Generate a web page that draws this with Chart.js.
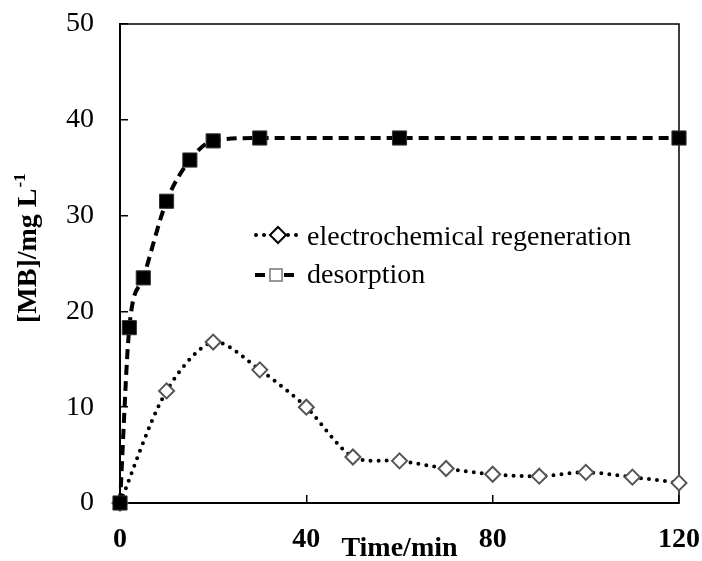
<!DOCTYPE html>
<html>
<head>
<meta charset="utf-8">
<title>[MB] vs time</title>
<script src="https://cdn.jsdelivr.net/npm/chart.js@4.4.0/dist/chart.umd.min.js"></script>
<style>
  html, body { margin: 0; padding: 0; background: #fff; }
  canvas { display: block; }
</style>
</head>
<body>
<canvas id="grafico" width="702" height="561"></canvas>
<script>
// desorption (squares, dashed)
const tiempoDesorcion = [0, 2, 5, 10, 15, 20, 30, 60, 120]
const valoresDesorcion = [0, 18.3, 23.5, 31.5, 35.8, 37.8, 38.1, 38.1, 38.1]

// electrochemical regeneration (diamonds, dotted)
const tiempoRegeneracion = [0, 10, 20, 30, 40, 50, 60, 70, 80, 90, 100, 110, 120]
const valoresRegeneracion = [0, 11.7, 16.8, 13.9, 10.0, 4.8, 4.4, 3.6, 3.0, 2.8, 3.2, 2.7, 2.1]

const ticksX = [0, 40, 80, 120]
const ticksY = [0, 10, 20, 30, 40, 50]
const nombres = ["electrochemical regeneration", "desorption"]
const tituloX = "Time/min"
const tituloY = "[MB]/mg L"
const tituloYSup = "-1"

const fuente = "'Liberation Serif', 'Times New Roman', serif"
Chart.defaults.font.family = fuente
Chart.defaults.color = '#000'

function puntos(xs, ys) {
  return xs.map((x, i) => ({ x: x, y: ys[i] }))
}

// frame, legend and y title
const extras = {
  id: 'extras',
  beforeDatasetsDraw(chart) {
    const { ctx, chartArea: a } = chart
    ctx.save()
    ctx.strokeStyle = '#000'
    ctx.lineWidth = 1.5
    ctx.beginPath()
    ctx.moveTo(a.left, a.top)
    ctx.lineTo(a.right, a.top)
    ctx.lineTo(a.right, a.bottom)
    ctx.stroke()
    ctx.restore()
  },
  afterDraw(chart) {
    const ctx = chart.ctx
    ctx.save()
    // legend row 1
    ctx.strokeStyle = '#000'
    ctx.lineWidth = 4
    ctx.lineCap = 'round'
    ctx.setLineDash([0, 8])
    ctx.beginPath()
    ctx.moveTo(256, 235); ctx.lineTo(302, 235)
    ctx.stroke()
    ctx.setLineDash([])
    ctx.lineCap = 'butt'
    ctx.fillStyle = '#fff'
    ctx.strokeStyle = '#000'
    ctx.lineWidth = 2
    ctx.beginPath()
    ctx.moveTo(270, 235); ctx.lineTo(278, 227); ctx.lineTo(286, 235); ctx.lineTo(278, 243); ctx.closePath()
    ctx.fill(); ctx.stroke()
    // legend row 2
    ctx.lineWidth = 4
    ctx.beginPath()
    ctx.moveTo(255, 275); ctx.lineTo(265, 275)
    ctx.moveTo(284, 275); ctx.lineTo(294, 275)
    ctx.stroke()
    ctx.strokeStyle = '#777'
    ctx.lineWidth = 1.5
    ctx.fillStyle = '#fff'
    ctx.fillRect(270, 269, 12, 12)
    ctx.strokeRect(270, 269, 12, 12)

    ctx.fillStyle = '#000'
    ctx.font = '28px ' + fuente
    ctx.textBaseline = 'alphabetic'
    ctx.textAlign = 'left'
    ctx.fillText(nombres[0], 307, 245)
    ctx.fillText(nombres[1], 307, 283)

    // y title with superscript
    ctx.translate(36, 323)
    ctx.rotate(-Math.PI / 2)
    ctx.font = 'bold 28px ' + fuente
    ctx.fillText(tituloY, 0, 0)
    const w = ctx.measureText(tituloY).width
    ctx.font = 'bold 17px ' + fuente
    ctx.fillText(tituloYSup, w + 1, -11)
    ctx.restore()
  }
}

new Chart(document.getElementById('grafico'), {
  type: 'scatter',
  data: {
    datasets: [
      {
        label: nombres[1],
        data: puntos(tiempoDesorcion, valoresDesorcion),
        showLine: true,
        cubicInterpolationMode: 'monotone',
        borderColor: '#000',
        borderWidth: 4,
        borderDash: [10, 6],
        pointStyle: 'rect',
        pointRadius: 10,
        pointBackgroundColor: '#000',
        pointBorderColor: '#333',
        pointBorderWidth: 1,
        clip: false
      },
      {
        label: nombres[0],
        data: puntos(tiempoRegeneracion, valoresRegeneracion),
        showLine: true,
        tension: 0.3,
        borderColor: '#000',
        borderWidth: 4,
        borderDash: [0, 8],
        borderCapStyle: 'round',
        pointStyle: 'rectRot',
        pointRadius: 7.5,
        pointBackgroundColor: '#fff',
        pointBorderColor: '#555',
        pointBorderWidth: 2,
        clip: false
      }
    ]
  },
  options: {
    responsive: false,
    animation: false,
    layout: { padding: { top: 24, right: 23, left: 0, bottom: 0 } },
    plugins: {
      legend: { display: false },
      tooltip: { enabled: false }
    },
    scales: {
      x: {
        type: 'linear',
        min: 0,
        max: 120,
        afterBuildTicks: s => { s.ticks = ticksX.map(v => ({ value: v })) },
        afterFit: s => { s.height = 58; s.paddingLeft = 0; s.paddingRight = 0 },
        border: { display: true, color: '#000', width: 2 },
        grid: { drawOnChartArea: false, drawTicks: true, tickLength: -8, color: '#000', lineWidth: 1.5 },
        ticks: { font: { size: 28, weight: 'bold' }, padding: 28, color: '#000' },
        title: {
          display: true,
          text: tituloX,
          font: { size: 28, weight: 'bold' },
          padding: { top: 0, bottom: -5 },
          color: '#000'
        }
      },
      y: {
        type: 'linear',
        min: 0,
        max: 50,
        afterBuildTicks: s => { s.ticks = ticksY.map(v => ({ value: v })) },
        afterFit: s => { s.width = 120; s.paddingTop = 0; s.paddingBottom = 0 },
        border: { display: true, color: '#000', width: 2 },
        grid: { drawOnChartArea: false, drawTicks: true, tickLength: -8, color: '#000', lineWidth: 1.5 },
        ticks: { font: { size: 28 }, padding: 34, color: '#000' }
      }
    }
  },
  plugins: [extras]
})
</script>
</body>
</html>
